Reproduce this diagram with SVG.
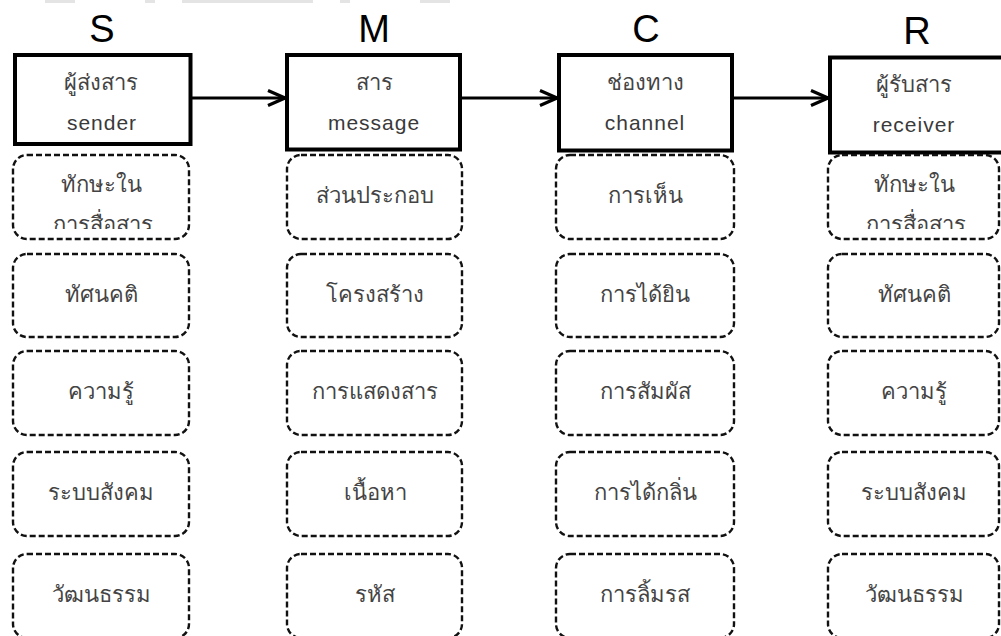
<svg xmlns="http://www.w3.org/2000/svg" width="1001" height="636" viewBox="0 0 1001 636">
<style>
.bg{fill:#ffffff}
.bar{fill:#e4e4e4}
.head{font-family:"Liberation Sans",Arial,sans-serif;font-size:38px;fill:#000;text-anchor:middle}
.main{fill:#fff;stroke:#000;stroke-width:4}
.dash{fill:#fff;stroke:#111;stroke-width:2.4;stroke-dasharray:6 3}
.th{font-family:"Noto Sans","Liberation Sans",sans-serif;font-size:22px;fill:#444;text-anchor:middle}
.en{font-family:"Liberation Sans",Arial,sans-serif;font-size:21px;letter-spacing:1px;fill:#3a3a3a;text-anchor:middle}
.conn{stroke:#000;stroke-width:3;fill:none}
</style>
<defs>
<marker id="arr" markerUnits="userSpaceOnUse" markerWidth="22" markerHeight="20" refX="19" refY="9" orient="auto">
<path d="M2,1.5 L19,9 L2,16.5" fill="none" stroke="#000" stroke-width="3.2"/>
</marker>
<clipPath id="clipS1"><rect x="13" y="155" width="176" height="74"/></clipPath>
<clipPath id="clipR1"><rect x="828" y="155" width="171" height="74"/></clipPath>
</defs>
<rect class="bg" x="0" y="0" width="1001" height="636"/>
<rect class="bar" x="45" y="0" width="30" height="3"/>
<rect class="bar" x="145" y="0" width="10" height="3"/>
<rect class="bar" x="182" y="0" width="131" height="3"/>
<rect class="bar" x="340" y="0" width="10" height="3"/>
<rect class="bar" x="420" y="0" width="30" height="3"/>

<g id="connectors">
<line class="conn" x1="192" y1="98" x2="285" y2="98" marker-end="url(#arr)"/>
<line class="conn" x1="462" y1="98" x2="557" y2="98" marker-end="url(#arr)"/>
<line class="conn" x1="734" y1="98" x2="828" y2="98" marker-end="url(#arr)"/>
</g>

<g id="col-S">
<text class="head" x="102" y="42">S</text>
<g id="node-sender"><rect class="main" x="15" y="55" width="175.5" height="89"/>
<text class="th" x="101" y="90">ผู้ส่งสาร</text><text class="en" x="102" y="130">sender</text></g>
<g id="S-1"><rect class="dash" x="13" y="155" width="176" height="84" rx="14"/>
<text class="th" x="101" y="192">ทักษะใน</text>
<text class="th" x="103" y="232" clip-path="url(#clipS1)">การสื่อสาร</text></g>
<g id="S-2"><rect class="dash" x="13" y="254" width="176" height="83" rx="14"/><text class="th" x="101" y="302">ทัศนคติ</text></g>
<g id="S-3"><rect class="dash" x="13" y="351" width="176" height="84" rx="14"/><text class="th" x="101" y="399">ความรู้</text></g>
<g id="S-4"><rect class="dash" x="13" y="452" width="176" height="84" rx="14"/><text class="th" x="101" y="500">ระบบสังคม</text></g>
<g id="S-5"><rect class="dash" x="13" y="554" width="176" height="84" rx="14"/><text class="th" x="101" y="602">วัฒนธรรม</text></g>
</g>

<g id="col-M">
<text class="head" x="374" y="42">M</text>
<g id="node-message"><rect class="main" x="287" y="55" width="173" height="94.5"/>
<text class="th" x="374" y="90">สาร</text><text class="en" x="374" y="130">message</text></g>
<g id="M-1"><rect class="dash" x="287" y="155" width="175" height="84" rx="14"/><text class="th" x="375" y="203">ส่วนประกอบ</text></g>
<g id="M-2"><rect class="dash" x="287" y="254" width="175" height="83" rx="14"/><text class="th" x="375" y="302">โครงสร้าง</text></g>
<g id="M-3"><rect class="dash" x="287" y="351" width="175" height="84" rx="14"/><text class="th" x="375" y="399">การแสดงสาร</text></g>
<g id="M-4"><rect class="dash" x="287" y="452" width="175" height="84" rx="14"/><text class="th" x="375" y="500">เนื้อหา</text></g>
<g id="M-5"><rect class="dash" x="287" y="554" width="175" height="84" rx="14"/><text class="th" x="375" y="602">รหัส</text></g>
</g>

<g id="col-C">
<text class="head" x="646" y="42">C</text>
<g id="node-channel"><rect class="main" x="559" y="55" width="173" height="95.5"/>
<text class="th" x="645" y="90">ช่องทาง</text><text class="en" x="645" y="130">channel</text></g>
<g id="C-1"><rect class="dash" x="556" y="155" width="178" height="84" rx="14"/><text class="th" x="645" y="203">การเห็น</text></g>
<g id="C-2"><rect class="dash" x="556" y="254" width="178" height="83" rx="14"/><text class="th" x="645" y="302">การได้ยิน</text></g>
<g id="C-3"><rect class="dash" x="556" y="351" width="178" height="84" rx="14"/><text class="th" x="645" y="399">การสัมผัส</text></g>
<g id="C-4"><rect class="dash" x="556" y="452" width="178" height="84" rx="14"/><text class="th" x="645" y="500">การได้กลิ่น</text></g>
<g id="C-5"><rect class="dash" x="556" y="554" width="178" height="84" rx="14"/><text class="th" x="645" y="602">การลิ้มรส</text></g>
</g>

<g id="col-R">
<text class="head" x="917" y="44">R</text>
<g id="node-receiver"><rect class="main" x="830" y="57.5" width="185" height="95"/>
<text class="th" x="914" y="92">ผู้รับสาร</text><text class="en" x="914" y="132">receiver</text></g>
<g id="R-1"><rect class="dash" x="828" y="155" width="171" height="84" rx="14"/>
<text class="th" x="914" y="192">ทักษะใน</text>
<text class="th" x="916" y="232" clip-path="url(#clipR1)">การสื่อสาร</text></g>
<g id="R-2"><rect class="dash" x="828" y="254" width="171" height="83" rx="14"/><text class="th" x="914" y="302">ทัศนคติ</text></g>
<g id="R-3"><rect class="dash" x="828" y="351" width="171" height="84" rx="14"/><text class="th" x="914" y="399">ความรู้</text></g>
<g id="R-4"><rect class="dash" x="828" y="452" width="171" height="84" rx="14"/><text class="th" x="914" y="500">ระบบสังคม</text></g>
<g id="R-5"><rect class="dash" x="828" y="554" width="171" height="84" rx="14"/><text class="th" x="914" y="602">วัฒนธรรม</text></g>
</g>
</svg>
